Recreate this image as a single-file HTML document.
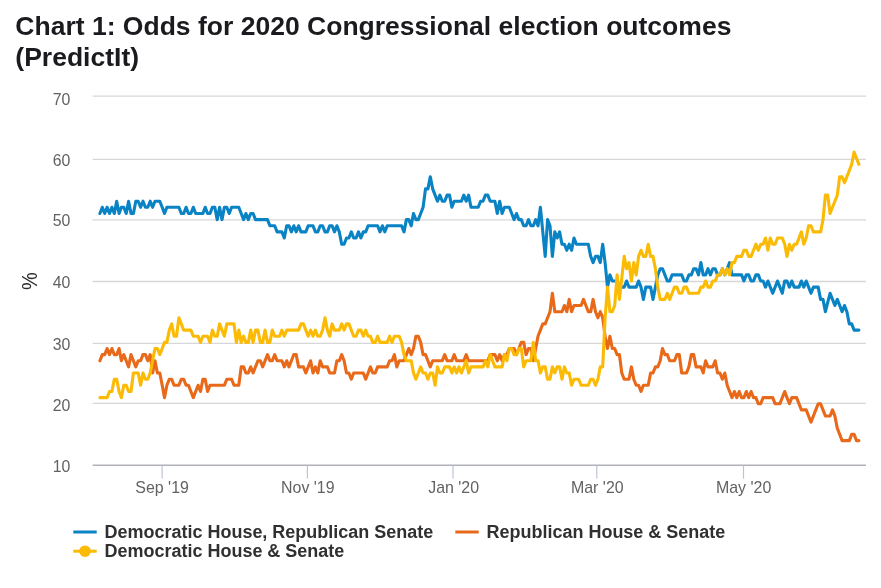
<!DOCTYPE html>
<html><head><meta charset="utf-8"><title>Chart 1</title>
<style>
html,body{margin:0;padding:0;background:#fff;}
body{width:881px;height:588px;overflow:hidden;font-family:"Liberation Sans",sans-serif;}
svg{display:block;}
text{font-family:"Liberation Sans",sans-serif;}
.t{font-weight:bold;font-size:26.53px;fill:#1b1b1f;}
.ax{font-size:16.6px;fill:#626262;}
.lg{font-weight:bold;font-size:17.98px;fill:#303030;}
.ln{fill:none;stroke-width:3.1;stroke-linejoin:round;stroke-linecap:round;}
</style></head><body>
<svg width="881" height="588" viewBox="0 0 881 588">
<rect width="881" height="588" fill="#fff"/>
<text class="t" x="15.3" y="34.7">Chart 1: Odds for 2020 Congressional election outcomes</text>
<text class="t" x="15.3" y="65.9">(PredictIt)</text>
<g stroke="#d7d7d7" stroke-width="1.3">
<line x1="92.7" x2="866" y1="96.2" y2="96.2"/>
<line x1="92.7" x2="866" y1="159.4" y2="159.4"/>
<line x1="92.7" x2="866" y1="219.8" y2="219.8"/>
<line x1="92.7" x2="866" y1="281.5" y2="281.5"/>
<line x1="92.7" x2="866" y1="343.4" y2="343.4"/>
<line x1="92.7" x2="866" y1="403.4" y2="403.4"/>
</g>
<line x1="92.7" x2="866" y1="465.2" y2="465.2" stroke="#b0b1b9" stroke-width="1.5"/>
<g stroke="#bcc4d8" stroke-width="1.2">
<line x1="162.1" x2="162.1" y1="465.5" y2="478.6"/>
<line x1="307.4" x2="307.4" y1="465.5" y2="478.6"/>
<line x1="453.0" x2="453.0" y1="465.5" y2="478.6"/>
<line x1="596.8" x2="596.8" y1="465.5" y2="478.6"/>
<line x1="743.5" x2="743.5" y1="465.5" y2="478.6"/>
</g>
<g class="ax" text-anchor="middle">
<text transform="translate(162.1,492.8) scale(0.96,1)">Sep '19</text>
<text transform="translate(307.8,492.8) scale(0.96,1)">Nov '19</text>
<text transform="translate(453.6,492.8) scale(0.96,1)">Jan '20</text>
<text transform="translate(597.3,492.8) scale(0.96,1)">Mar '20</text>
<text transform="translate(743.6,492.8) scale(0.96,1)">May '20</text>
</g>
<g class="ax" text-anchor="end">
<text transform="translate(70.3,104.5) scale(0.955,1)">70</text>
<text transform="translate(70.3,165.8) scale(0.955,1)">60</text>
<text transform="translate(70.3,226.1) scale(0.955,1)">50</text>
<text transform="translate(70.3,287.6) scale(0.955,1)">40</text>
<text transform="translate(70.3,350.0) scale(0.955,1)">30</text>
<text transform="translate(70.3,410.6) scale(0.955,1)">20</text>
<text transform="translate(70.3,472.2) scale(0.955,1)">10</text>
</g>
<text style="font-size:21.5px;fill:#2e2e2e" transform="translate(37.3,281.2) rotate(-90) scale(0.93,1)" text-anchor="middle">%</text>
<path class="ln" stroke="#0a83c4" d="M99.9 213.5 L102.3 207.3 L104.7 213.5 L107.1 207.3 L109.5 213.5 L111.9 207.3 L114.3 213.5 L116.7 201.2 L119.1 213.5 L121.4 207.3 L123.8 207.3 L126.2 213.5 L128.6 201.2 L131.0 213.5 L133.4 213.5 L135.8 201.2 L138.2 201.2 L140.6 207.3 L143.0 201.2 L145.4 207.3 L147.8 207.3 L150.2 201.2 L152.6 207.3 L155.0 201.2 L157.4 201.2 L159.8 201.2 L162.2 207.3 L164.5 213.5 L166.9 207.3 L169.3 207.3 L171.7 207.3 L174.1 207.3 L176.5 207.3 L178.9 207.3 L181.3 213.5 L183.7 213.5 L186.1 207.3 L188.5 213.5 L190.9 213.5 L193.3 207.3 L195.7 213.5 L198.1 213.5 L200.5 213.5 L202.9 213.5 L205.2 207.3 L207.6 213.5 L210.0 213.5 L212.4 207.3 L214.8 207.3 L217.2 219.6 L219.6 207.3 L222.0 219.6 L224.4 207.3 L226.8 207.3 L229.2 213.5 L231.6 207.3 L234.0 207.3 L236.4 207.3 L238.8 207.3 L241.2 213.5 L243.6 219.6 L245.9 213.5 L248.3 219.6 L250.7 213.5 L253.1 213.5 L255.5 219.6 L257.9 219.6 L260.3 219.6 L262.7 219.6 L265.1 219.6 L267.5 219.6 L269.9 225.8 L272.3 225.8 L274.7 225.8 L277.1 231.9 L279.5 231.9 L281.9 231.9 L284.3 238.0 L286.7 225.8 L289.0 225.8 L291.4 231.9 L293.8 225.8 L296.2 231.9 L298.6 225.8 L301.0 231.9 L303.4 231.9 L305.8 231.9 L308.2 225.8 L310.6 225.8 L313.0 225.8 L315.4 231.9 L317.8 231.9 L320.2 225.8 L322.6 225.8 L325.0 231.9 L327.4 231.9 L329.7 225.8 L332.1 225.8 L334.5 231.9 L336.9 225.8 L339.3 231.9 L341.7 244.2 L344.1 244.2 L346.5 238.0 L348.9 238.0 L351.3 231.9 L353.7 238.0 L356.1 238.0 L358.5 231.9 L360.9 238.0 L363.3 231.9 L365.7 231.9 L368.1 225.8 L370.4 225.8 L372.8 225.8 L375.2 225.8 L377.6 225.8 L380.0 231.9 L382.4 225.8 L384.8 231.9 L387.2 225.8 L389.6 225.8 L392.0 225.8 L394.4 225.8 L396.8 225.8 L399.2 225.8 L401.6 225.8 L404.0 231.9 L406.4 219.6 L408.8 219.6 L411.2 225.8 L413.5 213.5 L415.9 219.6 L418.3 219.6 L420.7 213.5 L423.1 207.3 L425.5 188.9 L427.9 188.9 L430.3 176.7 L432.7 188.9 L435.1 195.1 L437.5 201.2 L439.9 195.1 L442.3 201.2 L444.7 201.2 L447.1 195.1 L449.5 195.1 L451.9 207.3 L454.2 201.2 L456.6 201.2 L459.0 201.2 L461.4 201.2 L463.8 195.1 L466.2 201.2 L468.6 195.1 L471.0 207.3 L473.4 207.3 L475.8 207.3 L478.2 207.3 L480.6 201.2 L483.0 201.2 L485.4 195.1 L487.8 195.1 L490.2 201.2 L492.6 201.2 L494.9 201.2 L497.3 213.5 L499.7 201.2 L502.1 213.5 L504.5 207.3 L506.9 207.3 L509.3 207.3 L511.7 213.5 L514.1 219.6 L516.5 213.5 L518.9 219.6 L521.3 219.6 L523.7 225.8 L526.1 225.8 L528.5 219.6 L530.9 225.8 L533.3 225.8 L535.7 219.6 L538.0 225.8 L540.4 207.3 L542.8 231.9 L545.2 256.4 L547.6 219.6 L550.0 225.8 L552.4 256.4 L554.8 231.9 L557.2 238.0 L559.6 231.9 L562.0 244.2 L564.4 244.2 L566.8 250.3 L569.2 244.2 L571.6 250.3 L574.0 238.0 L576.4 244.2 L578.7 244.2 L581.1 244.2 L583.5 244.2 L585.9 244.2 L588.3 244.2 L590.7 256.4 L593.1 262.6 L595.5 256.4 L597.9 256.4 L600.3 262.6 L602.7 244.2 L605.1 262.6 L607.5 287.1 L609.9 274.9 L612.3 281.0 L614.7 281.0 L617.1 281.0 L619.4 287.1 L621.8 287.1 L624.2 287.1 L626.6 281.0 L629.0 287.1 L631.4 287.1 L633.8 287.1 L636.2 287.1 L638.6 281.0 L641.0 287.1 L643.4 299.4 L645.8 287.1 L648.2 287.1 L650.6 287.1 L653.0 299.4 L655.4 287.1 L657.8 274.9 L660.2 268.7 L662.5 268.7 L664.9 274.9 L667.3 281.0 L669.7 281.0 L672.1 274.9 L674.5 274.9 L676.9 274.9 L679.3 274.9 L681.7 274.9 L684.1 281.0 L686.5 281.0 L688.9 274.9 L691.3 274.9 L693.7 268.7 L696.1 268.7 L698.5 274.9 L700.9 262.6 L703.2 274.9 L705.6 274.9 L708.0 268.7 L710.4 274.9 L712.8 268.7 L715.2 268.7 L717.6 274.9 L720.0 274.9 L722.4 268.7 L724.8 274.9 L727.2 268.7 L729.6 262.6 L732.0 274.9 L734.4 274.9 L736.8 274.9 L739.2 274.9 L741.6 274.9 L743.9 281.0 L746.3 274.9 L748.7 274.9 L751.1 281.0 L753.5 281.0 L755.9 274.9 L758.3 274.9 L760.7 281.0 L763.1 281.0 L765.5 287.1 L767.9 281.0 L770.3 287.1 L772.7 293.3 L775.1 287.1 L777.5 281.0 L779.9 287.1 L782.3 293.3 L784.7 281.0 L787.0 281.0 L789.4 287.1 L791.8 281.0 L794.2 287.1 L796.6 287.1 L799.0 287.1 L801.4 281.0 L803.8 287.1 L806.2 281.0 L808.6 287.1 L811.0 293.3 L813.4 287.1 L815.8 287.1 L818.2 287.1 L820.6 299.4 L823.0 299.4 L825.4 311.7 L827.7 302.5 L830.1 293.3 L832.5 299.4 L834.9 305.5 L837.3 299.4 L839.7 305.5 L842.1 311.7 L844.5 305.5 L846.9 311.7 L849.3 323.9 L851.7 323.9 L854.1 330.1 L856.5 330.1 L858.9 330.1"/>
<path class="ln" stroke="#e8691a" d="M99.9 360.8 L102.3 354.6 L104.7 354.6 L107.1 348.5 L109.5 354.6 L111.9 348.5 L114.3 354.6 L116.7 354.6 L119.1 348.5 L121.4 360.8 L123.8 354.6 L126.2 360.8 L128.6 366.9 L131.0 354.6 L133.4 360.8 L135.8 366.9 L138.2 360.8 L140.6 360.8 L143.0 354.6 L145.4 354.6 L147.8 360.8 L150.2 354.6 L152.6 373.0 L155.0 360.8 L157.4 373.0 L159.8 373.0 L162.2 385.3 L164.5 397.6 L166.9 385.3 L169.3 379.2 L171.7 379.2 L174.1 385.3 L176.5 385.3 L178.9 385.3 L181.3 379.2 L183.7 379.2 L186.1 385.3 L188.5 385.3 L190.9 391.5 L193.3 397.6 L195.7 391.5 L198.1 385.3 L200.5 391.5 L202.9 379.2 L205.2 379.2 L207.6 391.5 L210.0 385.3 L212.4 385.3 L214.8 385.3 L217.2 385.3 L219.6 385.3 L222.0 385.3 L224.4 385.3 L226.8 379.2 L229.2 379.2 L231.6 379.2 L234.0 385.3 L236.4 385.3 L238.8 385.3 L241.2 366.9 L243.6 366.9 L245.9 373.0 L248.3 373.0 L250.7 366.9 L253.1 373.0 L255.5 366.9 L257.9 360.8 L260.3 360.8 L262.7 366.9 L265.1 360.8 L267.5 354.6 L269.9 360.8 L272.3 360.8 L274.7 354.6 L277.1 360.8 L279.5 360.8 L281.9 360.8 L284.3 366.9 L286.7 360.8 L289.0 366.9 L291.4 360.8 L293.8 354.6 L296.2 354.6 L298.6 366.9 L301.0 366.9 L303.4 366.9 L305.8 373.0 L308.2 366.9 L310.6 360.8 L313.0 373.0 L315.4 366.9 L317.8 373.0 L320.2 360.8 L322.6 366.9 L325.0 366.9 L327.4 366.9 L329.7 373.0 L332.1 373.0 L334.5 373.0 L336.9 360.8 L339.3 360.8 L341.7 354.6 L344.1 360.8 L346.5 373.0 L348.9 373.0 L351.3 379.2 L353.7 373.0 L356.1 373.0 L358.5 373.0 L360.9 373.0 L363.3 373.0 L365.7 379.2 L368.1 373.0 L370.4 366.9 L372.8 373.0 L375.2 373.0 L377.6 366.9 L380.0 366.9 L382.4 366.9 L384.8 366.9 L387.2 366.9 L389.6 360.8 L392.0 360.8 L394.4 354.6 L396.8 366.9 L399.2 360.8 L401.6 360.8 L404.0 360.8 L406.4 354.6 L408.8 348.5 L411.2 354.6 L413.5 348.5 L415.9 336.2 L418.3 336.2 L420.7 342.4 L423.1 354.6 L425.5 354.6 L427.9 360.8 L430.3 366.9 L432.7 360.8 L435.1 360.8 L437.5 360.8 L439.9 360.8 L442.3 360.8 L444.7 354.6 L447.1 360.8 L449.5 360.8 L451.9 360.8 L454.2 354.6 L456.6 360.8 L459.0 360.8 L461.4 360.8 L463.8 360.8 L466.2 354.6 L468.6 360.8 L471.0 360.8 L473.4 360.8 L475.8 360.8 L478.2 360.8 L480.6 360.8 L483.0 360.8 L485.4 360.8 L487.8 360.8 L490.2 354.6 L492.6 354.6 L494.9 354.6 L497.3 360.8 L499.7 354.6 L502.1 360.8 L504.5 354.6 L506.9 354.6 L509.3 348.5 L511.7 348.5 L514.1 348.5 L516.5 354.6 L518.9 348.5 L521.3 342.4 L523.7 342.4 L526.1 354.6 L528.5 348.5 L530.9 348.5 L533.3 360.8 L535.7 348.5 L538.0 336.2 L540.4 330.1 L542.8 323.9 L545.2 323.9 L547.6 317.8 L550.0 311.7 L552.4 293.3 L554.8 311.7 L557.2 311.7 L559.6 311.7 L562.0 311.7 L564.4 305.5 L566.8 311.7 L569.2 299.4 L571.6 311.7 L574.0 305.5 L576.4 305.5 L578.7 305.5 L581.1 305.5 L583.5 299.4 L585.9 305.5 L588.3 311.7 L590.7 311.7 L593.1 299.4 L595.5 311.7 L597.9 317.8 L600.3 311.7 L602.7 317.8 L605.1 336.2 L607.5 348.5 L609.9 336.2 L612.3 348.5 L614.7 348.5 L617.1 354.6 L619.4 354.6 L621.8 373.0 L624.2 379.2 L626.6 379.2 L629.0 379.2 L631.4 366.9 L633.8 379.2 L636.2 385.3 L638.6 385.3 L641.0 391.5 L643.4 385.3 L645.8 385.3 L648.2 385.3 L650.6 373.0 L653.0 373.0 L655.4 366.9 L657.8 366.9 L660.2 360.8 L662.5 348.5 L664.9 354.6 L667.3 354.6 L669.7 360.8 L672.1 360.8 L674.5 360.8 L676.9 354.6 L679.3 354.6 L681.7 373.0 L684.1 373.0 L686.5 373.0 L688.9 366.9 L691.3 354.6 L693.7 354.6 L696.1 366.9 L698.5 366.9 L700.9 366.9 L703.2 373.0 L705.6 360.8 L708.0 366.9 L710.4 366.9 L712.8 366.9 L715.2 360.8 L717.6 373.0 L720.0 373.0 L722.4 379.2 L724.8 373.0 L727.2 385.3 L729.6 391.5 L732.0 397.6 L734.4 391.5 L736.8 397.6 L739.2 391.5 L741.6 397.6 L743.9 397.6 L746.3 391.5 L748.7 397.6 L751.1 391.5 L753.5 397.6 L755.9 397.6 L758.3 403.7 L760.7 403.7 L763.1 397.6 L765.5 397.6 L767.9 397.6 L770.3 397.6 L772.7 397.6 L775.1 403.7 L777.5 403.7 L779.9 403.7 L782.3 397.6 L784.7 391.5 L787.0 397.6 L789.4 403.7 L791.8 397.6 L794.2 397.6 L796.6 397.6 L799.0 403.7 L801.4 409.9 L803.8 409.9 L806.2 409.9 L808.6 416.0 L811.0 422.1 L813.4 416.0 L815.8 409.9 L818.2 403.7 L820.6 403.7 L823.0 409.9 L825.4 416.0 L827.7 416.0 L830.1 416.0 L832.5 409.9 L834.9 416.0 L837.3 428.3 L839.7 434.4 L842.1 440.6 L844.5 440.6 L846.9 440.6 L849.3 440.6 L851.7 434.4 L854.1 434.4 L856.5 440.6 L858.9 440.6"/>
<path class="ln" stroke="#fbbb04" d="M99.9 397.6 L102.3 397.6 L104.7 397.6 L107.1 397.6 L109.5 391.5 L111.9 391.5 L114.3 379.2 L116.7 379.2 L119.1 391.5 L121.4 397.6 L123.8 385.3 L126.2 385.3 L128.6 391.5 L131.0 391.5 L133.4 373.0 L135.8 373.0 L138.2 373.0 L140.6 385.3 L143.0 373.0 L145.4 379.2 L147.8 379.2 L150.2 373.0 L152.6 360.8 L155.0 348.5 L157.4 348.5 L159.8 354.6 L162.2 348.5 L164.5 342.4 L166.9 342.4 L169.3 330.1 L171.7 323.9 L174.1 336.2 L176.5 336.2 L178.9 317.8 L181.3 323.9 L183.7 330.1 L186.1 330.1 L188.5 330.1 L190.9 330.1 L193.3 336.2 L195.7 336.2 L198.1 336.2 L200.5 342.4 L202.9 336.2 L205.2 336.2 L207.6 336.2 L210.0 342.4 L212.4 330.1 L214.8 336.2 L217.2 336.2 L219.6 323.9 L222.0 330.1 L224.4 336.2 L226.8 323.9 L229.2 323.9 L231.6 323.9 L234.0 323.9 L236.4 342.4 L238.8 330.1 L241.2 342.4 L243.6 336.2 L245.9 342.4 L248.3 342.4 L250.7 330.1 L253.1 342.4 L255.5 330.1 L257.9 330.1 L260.3 342.4 L262.7 342.4 L265.1 330.1 L267.5 342.4 L269.9 342.4 L272.3 330.1 L274.7 336.2 L277.1 336.2 L279.5 336.2 L281.9 330.1 L284.3 336.2 L286.7 330.1 L289.0 330.1 L291.4 330.1 L293.8 330.1 L296.2 330.1 L298.6 330.1 L301.0 323.9 L303.4 323.9 L305.8 330.1 L308.2 336.2 L310.6 330.1 L313.0 336.2 L315.4 330.1 L317.8 336.2 L320.2 336.2 L322.6 330.1 L325.0 317.8 L327.4 330.1 L329.7 336.2 L332.1 323.9 L334.5 330.1 L336.9 330.1 L339.3 330.1 L341.7 323.9 L344.1 330.1 L346.5 323.9 L348.9 323.9 L351.3 330.1 L353.7 336.2 L356.1 336.2 L358.5 330.1 L360.9 330.1 L363.3 336.2 L365.7 330.1 L368.1 336.2 L370.4 336.2 L372.8 342.4 L375.2 342.4 L377.6 336.2 L380.0 342.4 L382.4 342.4 L384.8 342.4 L387.2 342.4 L389.6 336.2 L392.0 342.4 L394.4 336.2 L396.8 336.2 L399.2 336.2 L401.6 342.4 L404.0 354.6 L406.4 360.8 L408.8 360.8 L411.2 360.8 L413.5 373.0 L415.9 379.2 L418.3 373.0 L420.7 366.9 L423.1 373.0 L425.5 373.0 L427.9 379.2 L430.3 373.0 L432.7 373.0 L435.1 385.3 L437.5 366.9 L439.9 373.0 L442.3 373.0 L444.7 366.9 L447.1 366.9 L449.5 366.9 L451.9 373.0 L454.2 366.9 L456.6 373.0 L459.0 366.9 L461.4 373.0 L463.8 366.9 L466.2 360.8 L468.6 373.0 L471.0 366.9 L473.4 366.9 L475.8 366.9 L478.2 366.9 L480.6 366.9 L483.0 366.9 L485.4 360.8 L487.8 366.9 L490.2 354.6 L492.6 360.8 L494.9 366.9 L497.3 366.9 L499.7 366.9 L502.1 366.9 L504.5 354.6 L506.9 360.8 L509.3 348.5 L511.7 348.5 L514.1 354.6 L516.5 354.6 L518.9 348.5 L521.3 348.5 L523.7 366.9 L526.1 360.8 L528.5 360.8 L530.9 360.8 L533.3 342.4 L535.7 360.8 L538.0 360.8 L540.4 373.0 L542.8 366.9 L545.2 366.9 L547.6 379.2 L550.0 379.2 L552.4 366.9 L554.8 373.0 L557.2 366.9 L559.6 366.9 L562.0 379.2 L564.4 366.9 L566.8 373.0 L569.2 373.0 L571.6 385.3 L574.0 379.2 L576.4 379.2 L578.7 379.2 L581.1 385.3 L583.5 385.3 L585.9 385.3 L588.3 385.3 L590.7 379.2 L593.1 379.2 L595.5 385.3 L597.9 379.2 L600.3 366.9 L602.7 366.9 L605.1 317.8 L607.5 287.1 L609.9 311.7 L612.3 311.7 L614.7 305.5 L617.1 274.9 L619.4 299.4 L621.8 277.9 L624.2 256.4 L626.6 268.7 L629.0 262.6 L631.4 281.0 L633.8 262.6 L636.2 274.9 L638.6 256.4 L641.0 250.3 L643.4 256.4 L645.8 256.4 L648.2 244.2 L650.6 256.4 L653.0 256.4 L655.4 268.7 L657.8 287.1 L660.2 299.4 L662.5 299.4 L664.9 299.4 L667.3 293.3 L669.7 299.4 L672.1 293.3 L674.5 287.1 L676.9 287.1 L679.3 293.3 L681.7 293.3 L684.1 287.1 L686.5 287.1 L688.9 293.3 L691.3 293.3 L693.7 293.3 L696.1 293.3 L698.5 293.3 L700.9 287.1 L703.2 287.1 L705.6 281.0 L708.0 287.1 L710.4 287.1 L712.8 281.0 L715.2 281.0 L717.6 274.9 L720.0 274.9 L722.4 268.7 L724.8 274.9 L727.2 268.7 L729.6 274.9 L732.0 262.6 L734.4 262.6 L736.8 256.4 L739.2 256.4 L741.6 256.4 L743.9 250.3 L746.3 250.3 L748.7 256.4 L751.1 256.4 L753.5 250.3 L755.9 244.2 L758.3 250.3 L760.7 244.2 L763.1 244.2 L765.5 238.0 L767.9 250.3 L770.3 238.0 L772.7 244.2 L775.1 244.2 L777.5 238.0 L779.9 238.0 L782.3 238.0 L784.7 244.2 L787.0 256.4 L789.4 244.2 L791.8 250.3 L794.2 244.2 L796.6 244.2 L799.0 238.0 L801.4 231.9 L803.8 244.2 L806.2 238.0 L808.6 225.8 L811.0 225.8 L813.4 231.9 L815.8 231.9 L818.2 231.9 L820.6 231.9 L823.0 219.6 L825.4 195.1 L827.7 195.1 L830.1 213.5 L832.5 207.3 L834.9 201.2 L837.3 195.1 L839.7 176.7 L842.1 176.7 L844.5 182.8 L846.9 176.7 L849.3 170.5 L851.7 164.4 L854.1 152.1 L856.5 158.3 L858.9 164.4"/>
<g>
<line x1="73.3" x2="96.7" y1="532" y2="532" stroke="#0a83c4" stroke-width="3"/>
<text class="lg" x="104.6" y="538">Democratic House, Republican Senate</text>
<line x1="455.3" x2="478.7" y1="532" y2="532" stroke="#e8691a" stroke-width="3"/>
<text class="lg" x="486.6" y="538">Republican House &amp; Senate</text>
<line x1="73.3" x2="96.7" y1="551.2" y2="551.2" stroke="#fbbb04" stroke-width="3"/>
<circle cx="85" cy="551.2" r="5.8" fill="#fbbb04"/>
<text class="lg" x="104.6" y="557.3">Democratic House &amp; Senate</text>
</g>
</svg>
</body></html>
